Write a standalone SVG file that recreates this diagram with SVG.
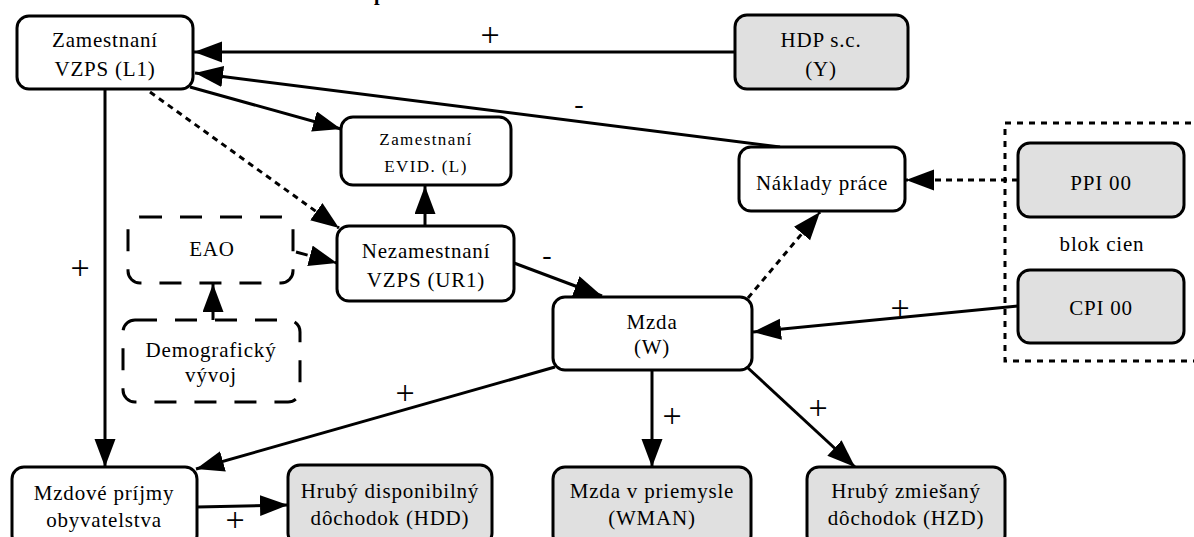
<svg xmlns="http://www.w3.org/2000/svg" width="1194" height="537" viewBox="0 0 1194 537">
<style>
.n{fill:#fff;stroke:#000;stroke-width:3}
.g{fill:#e0e0e0;stroke:#000;stroke-width:3}
.d{fill:none;stroke:#000;stroke-width:3;stroke-dasharray:22 18}
text{font-family:'Liberation Serif','DejaVu Serif',serif}
.t{font-size:21px;letter-spacing:0.8px;text-anchor:middle;fill:#000}
.s{font-size:17px;letter-spacing:1.4px}
.c{fill:none;stroke:#000;stroke-width:3;marker-end:url(#ah)}
.dt{stroke-dasharray:6 5}
.ds{stroke-dasharray:12 8}
.l{font-size:34px;text-anchor:middle;fill:#000}
.m{font-size:28px;text-anchor:middle;fill:#000}
</style>
<defs>
<marker id="ah" markerWidth="30" markerHeight="22" refX="28" refY="10.5" orient="auto" markerUnits="userSpaceOnUse"><path d="M0,0 L28,10.5 L0,21 z" fill="#000"/></marker>
</defs>
<rect width="1194" height="537" fill="#fff"/>
<text x="374" y="0" font-size="20" font-weight="bold">p</text>

<g id="connectors">
<line class="c" x1="735" y1="52" x2="194" y2="52"/>
<line class="c" x1="780" y1="147" x2="195" y2="73"/>
<line class="c" x1="190" y1="87" x2="341" y2="129"/>
<line class="c dt" x1="150" y1="92" x2="339" y2="228"/>
<line class="c" x1="425" y1="226" x2="425" y2="186"/>
<line class="c ds" x1="296" y1="252" x2="337" y2="263"/>
<line class="c" x1="213" y1="320" x2="213" y2="284"/>
<line class="c" x1="514" y1="263" x2="602" y2="296"/>
<line class="c dt" x1="748" y1="298" x2="820" y2="212"/>
<line class="c dt" x1="1018" y1="180" x2="906" y2="180"/>
<line class="c" x1="1018" y1="306" x2="753" y2="332"/>
<line class="c" x1="105" y1="89" x2="105" y2="467"/>
<line class="c" x1="555" y1="367" x2="196" y2="469"/>
<line class="c" x1="197" y1="507" x2="288" y2="505"/>
<line class="c" x1="652" y1="370" x2="652" y2="467"/>
<line class="c" x1="748" y1="368" x2="855" y2="467"/>
<text class="l" x="490" y="46">+</text>
<text class="m" x="579" y="113">-</text>
<text class="m" x="547" y="264">-</text>
<text class="l" x="900" y="319">+</text>
<text class="l" x="80" y="279">+</text>
<text class="l" x="405" y="404">+</text>
<text class="l" x="235" y="531">+</text>
<text class="l" x="672" y="427">+</text>
<text class="l" x="818" y="419">+</text>
</g>

<g id="blok">
<rect x="1005" y="123" width="200" height="238" fill="none" stroke="#000" stroke-width="3" stroke-dasharray="6 6"/>
<text class="t" x="1102" y="251">blok cien</text>
</g>

<g id="L1"><rect class="n" x="17" y="16" width="176" height="73" rx="12"/>
<text class="t" x="105" y="47">Zamestnaní</text><text class="t" x="105" y="76">VZPS (L1)</text></g>

<g id="HDP"><rect class="g" x="735" y="15" width="173" height="74" rx="12"/>
<text class="t" x="821" y="47">HDP s.c.</text><text class="t" x="821" y="76">(Y)</text></g>

<g id="EVID"><rect class="n" x="341" y="117" width="170" height="68" rx="12"/>
<text class="t s" x="426" y="145">Zamestnaní</text><text class="t s" x="426" y="172">EVID. (L)</text></g>

<g id="Naklady"><rect class="n" x="739" y="147" width="166" height="64" rx="12"/>
<text class="t" x="822" y="190">Náklady práce</text></g>

<g id="PPI"><rect class="g" x="1018" y="143" width="166" height="74" rx="12"/>
<text class="t" x="1101" y="190">PPI 00</text></g>

<g id="CPI"><rect class="g" x="1018" y="270" width="166" height="73" rx="12"/>
<text class="t" x="1101" y="315">CPI 00</text></g>

<g id="UR1"><rect class="n" x="337" y="226" width="177" height="75" rx="12"/>
<text class="t" x="426" y="258">Nezamestnaní</text><text class="t" x="426" y="287">VZPS (UR1)</text></g>

<g id="EAO"><rect class="d" x="128" y="217" width="165" height="66" rx="12"/>
<text class="t" x="212" y="256">EAO</text></g>

<g id="Demog"><rect class="d" x="123" y="320" width="177" height="82" rx="12"/>
<text class="t" x="211" y="357">Demografický</text><text class="t" x="211" y="382">vývoj</text></g>

<g id="Mzda"><rect class="n" x="553" y="297" width="199" height="73" rx="12"/>
<text class="t" x="652" y="329">Mzda</text><text class="t" x="652" y="354">(W)</text></g>

<g id="Mzdove"><rect class="n" x="12" y="467" width="185" height="80" rx="12"/>
<text class="t" x="104" y="500">Mzdové príjmy</text><text class="t" x="104" y="527">obyvatelstva</text></g>

<g id="HDD"><rect class="g" x="288" y="465" width="204" height="80" rx="12"/>
<text class="t" x="390" y="498">Hrubý disponibilný</text><text class="t" x="390" y="525">dôchodok (HDD)</text></g>

<g id="WMAN"><rect class="g" x="553" y="467" width="198" height="80" rx="12"/>
<text class="t" x="652" y="498">Mzda v priemysle</text><text class="t" x="652" y="525">(WMAN)</text></g>

<g id="HZD"><rect class="g" x="807" y="467" width="198" height="80" rx="12"/>
<text class="t" x="906" y="498">Hrubý zmiešaný</text><text class="t" x="906" y="525">dôchodok (HZD)</text></g>
</svg>
